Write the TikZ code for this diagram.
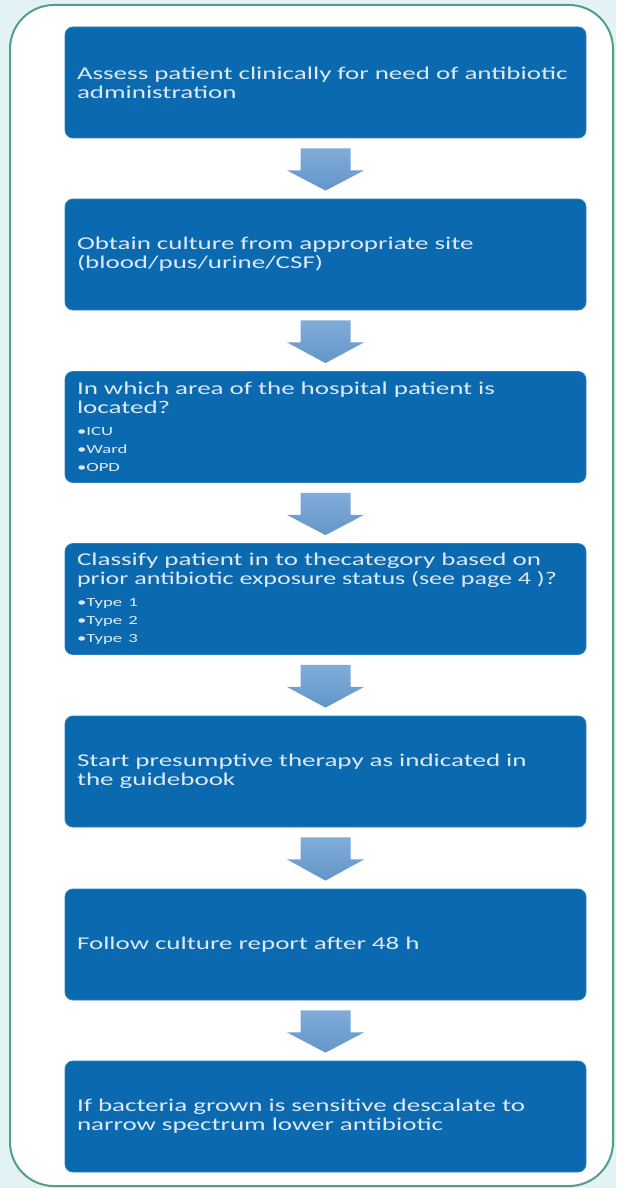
\documentclass[tikz,border=0pt]{standalone}
\usepackage{graphicx}
\usepackage{fontspec}
\setmainfont{Carlito}[FakeStretch=1.5]
\usetikzlibrary{calc}
\definecolor{bgcol}{HTML}{E3F2F5}
\definecolor{framecol}{HTML}{4F9F8B}
\definecolor{boxfill}{HTML}{0B6AAF}
\definecolor{boxedge}{HTML}{2B80C2}
\definecolor{boxtext}{HTML}{DDE9F6}
\definecolor{arrtop}{HTML}{80ACD8}
\definecolor{arrbot}{HTML}{6396CA}
\tikzset{
  stepbox/.style={rectangle, rounded corners=8pt, fill=boxfill, draw=boxedge, line width=0.8pt,
    minimum width=521pt, minimum height=111pt, text width=497pt, inner xsep=12pt, inner ysep=0pt,
    align=left, text=boxtext, font=\fontsize{18}{19}\selectfont},
  blockarrow/.style={top color=arrtop, bottom color=arrbot, draw=none},
  outerframe/.style={draw=framecol, line width=2pt, fill=white, rounded corners=44pt},
}
\newcommand{\bulletlines}[1]{\par\vspace{4pt}{\fontsize{12.5}{18}\selectfont #1\par}}
\begin{document}
\begin{tikzpicture}[x=1pt, y=-1pt]
\fill[bgcol] (0,0) rectangle (616,1188);
\useasboundingbox (0,0) rectangle (616,1188);
\path[outerframe] (10,5) rectangle (613,1186);

\node[stepbox] (b1) at (325.5,82.5) {Assess patient clinically for need of antibiotic\\administration};
\node[stepbox] (b2) at (325.5,254.5) {Obtain culture from appropriate site\\(blood/pus/urine/CSF)};
\node[stepbox] (b3) at (325.5,427) {In which area of the hospital patient is\\located?\bulletlines{•ICU\\•Ward\\•OPD}};
\node[stepbox] (b4) at (325.5,599) {Classify patient in to thecategory based on\\\resizebox{480pt}{\height}{prior antibiotic exposure status (see page 4 )?}\bulletlines{•Type 1\\•Type 2\\•Type 3}};
\node[stepbox] (b5) at (325.5,771.5) {Start presumptive therapy as indicated in\\the guidebook};
\node[stepbox] (b6) at (325.5,944.5) {Follow culture report after 48 h};
\node[stepbox] (b7) at (325.5,1116.5) {If bacteria grown is sensitive descalate to\\narrow spectrum lower  antibiotic};

\foreach \a/\b in {b1/b2,b2/b3,b3/b4,b4/b5,b5/b6,b6/b7}{
  \path[blockarrow] ($(\a.south)+(-25,10)$) -- ++(50,0) -- ++(0,22) -- ++(13.5,0)
     -- ($(\b.north)+(0,-8)$) -- ($(\a.south)+(-38.5,32)$) -- ++(13.5,0) -- cycle;
}
\end{tikzpicture}
\end{document}
